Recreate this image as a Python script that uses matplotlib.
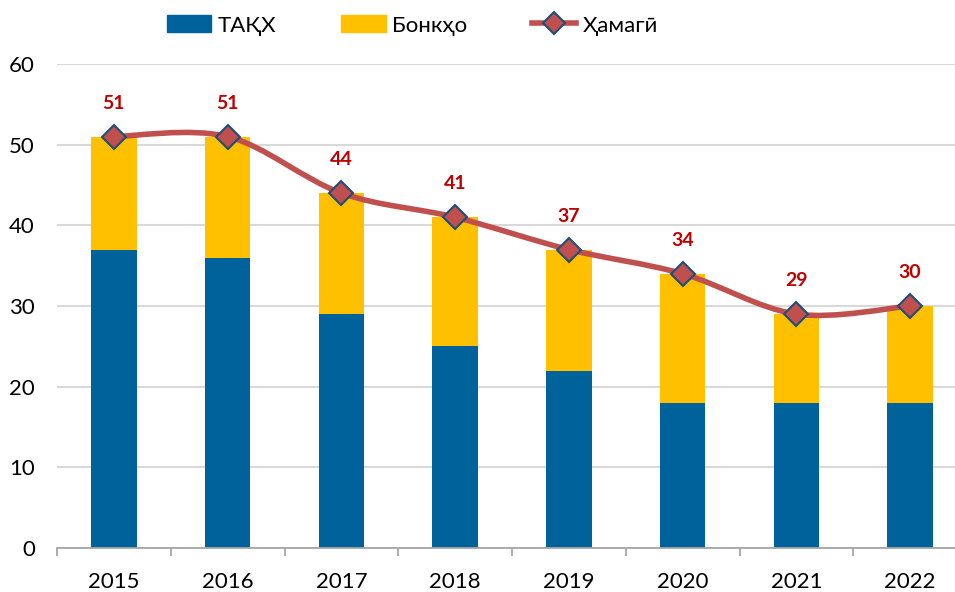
import numpy as np
import matplotlib.pyplot as plt
from matplotlib.path import Path
from matplotlib.patches import PathPatch
from matplotlib.lines import Line2D
from matplotlib.patches import Patch

plt.rcParams['font.family'] = ['Lato', 'DejaVu Sans']

years = ['2015', '2016', '2017', '2018', '2019', '2020', '2021', '2022']
taqx = [37, 36, 29, 25, 22, 18, 18, 18]
bonkho = [14, 15, 15, 16, 15, 16, 11, 12]
total = [51, 51, 44, 41, 37, 34, 29, 30]

blue = '#00629B'
yellow = '#FFC000'
red_line = '#C0504D'
label_red = '#C00000'

fig = plt.figure(figsize=(9.55, 5.92), dpi=100)
ax = fig.add_axes([57 / 955, 44 / 592, 910 / 955, 484 / 592])

x = np.arange(len(years))
ax.bar(x, taqx, width=0.4, color=blue, zorder=2)
ax.bar(x, bonkho, width=0.4, bottom=taqx, color=yellow, zorder=2)

# smoothed line like excel (catmull-rom -> bezier)
pts = np.column_stack([x, total]).astype(float)
n = len(pts)
verts = [pts[0]]
codes = [Path.MOVETO]
for i in range(n - 1):
    p0 = pts[i - 1] if i > 0 else pts[i]
    p1 = pts[i]
    p2 = pts[i + 1]
    p3 = pts[i + 2] if i + 2 < n else pts[i + 1]
    c1 = p1 + (p2 - p0) / 6
    c2 = p2 - (p3 - p1) / 6
    verts += [c1, c2, p2]
    codes += [Path.CURVE4] * 3
ax.add_patch(PathPatch(Path(verts, codes), facecolor='none', edgecolor=red_line,
                       lw=4, capstyle='round', zorder=3))
ax.plot(x, total, ls='none', marker='D', ms=12, mfc=red_line, mec='#1F4E79',
        mew=1.5, zorder=4)

for xi, t in zip(x, total):
    ax.annotate(str(t), (xi, t), xytext=(0, 24), textcoords='offset points',
                ha='center', va='center', color=label_red, fontsize=14,
                fontweight='bold')

ax.set_xlim(-0.5, len(years) - 0.5)
ax.set_ylim(0, 60)
ax.set_yticks(range(0, 61, 10))
ax.grid(axis='y', color='#D9D9D9', lw=1.5, zorder=0)
ax.set_axisbelow(True)
for s in ['top', 'right', 'left']:
    ax.spines[s].set_visible(False)
ax.spines['bottom'].set_color('#A6A6A6')
ax.spines['bottom'].set_linewidth(1.3)

ax.set_xticks(x)
ax.set_xticklabels(years)
ax.set_xticks(np.arange(-0.5, len(years), 1), minor=True)
ax.tick_params(axis='x', which='major', length=0, pad=17, labelsize=16)
ax.tick_params(axis='x', which='minor', length=6, width=1.3, color='#A6A6A6')
ax.tick_params(axis='y', length=0, pad=16, labelsize=16)

handles = [Patch(color=blue), Patch(color=yellow),
           Line2D([], [], color=red_line, lw=4, marker='D', ms=11,
                  mfc=red_line, mec='#1F4E79', mew=1.5)]
fig.legend(handles, ['ТАҚХ', 'Бонкҳо', 'Ҳамагӣ'], loc='center',
           bbox_to_anchor=(0.432, 0.957), ncol=3, frameon=False, fontsize=16,
           handlelength=2.0, handleheight=0.8, columnspacing=2.9,
           handletextpad=0.3)

fig.savefig('out.png', dpi=100)
